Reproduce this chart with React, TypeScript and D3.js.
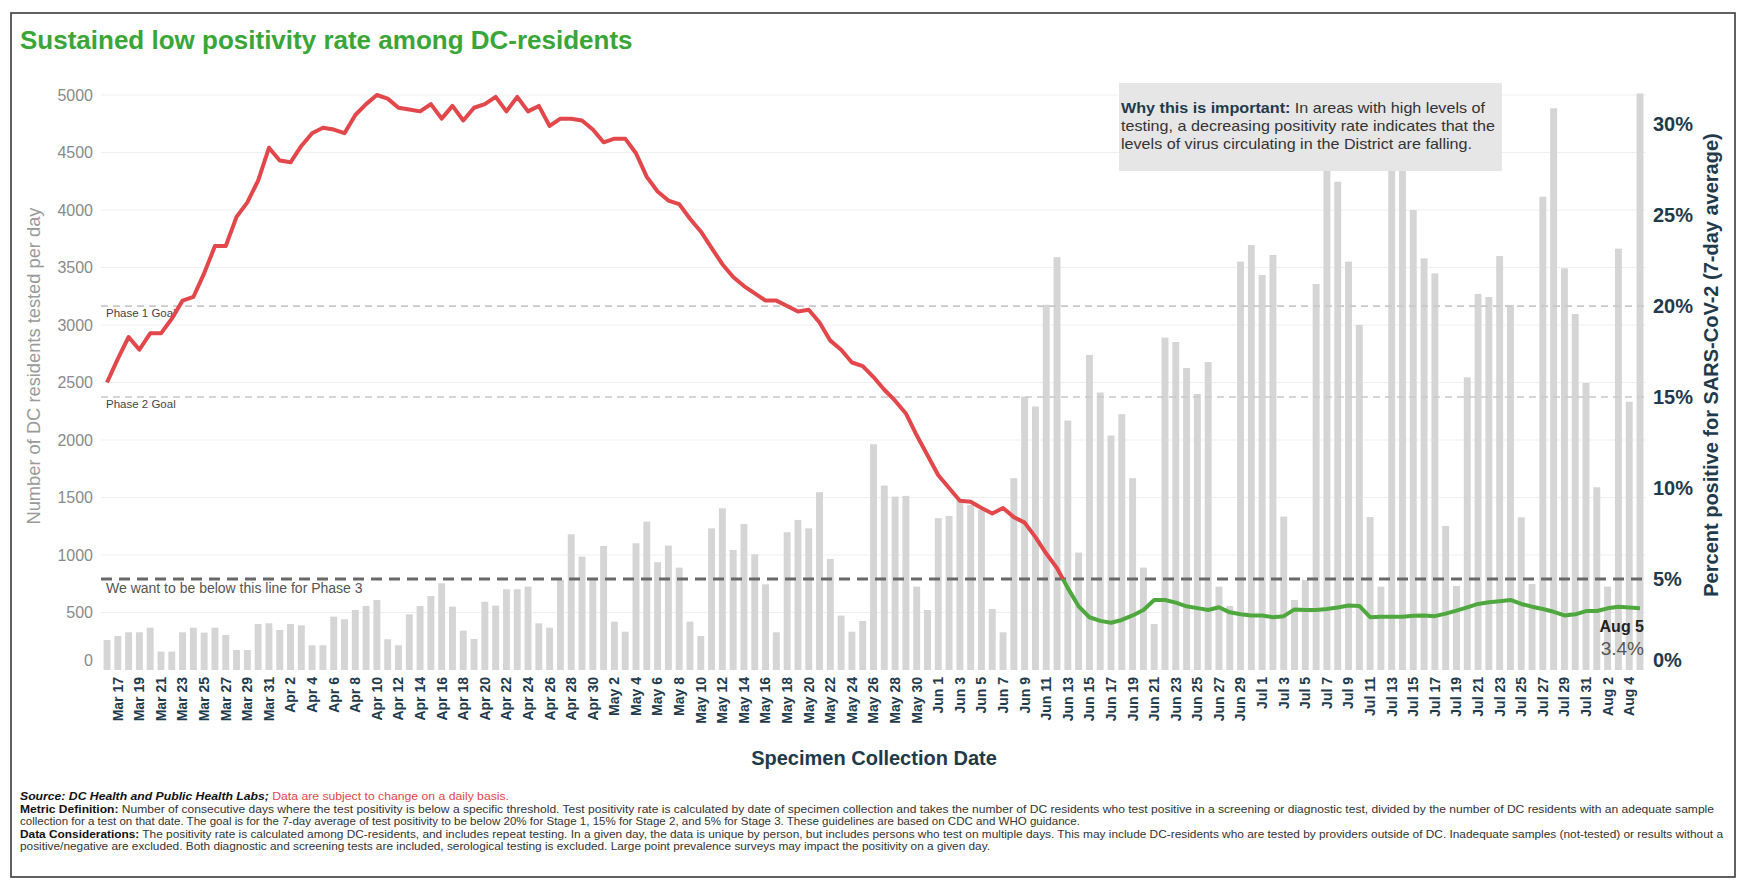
import * as d3 from 'd3';

// first collection date of the series (one value per day)
const startDate = new Date(2020, 2, 16);

// DC residents tested per day, Mar 16 - Aug 5
const testsPerDay = [
  261, 296, 328, 328, 368, 160, 160, 328, 368, 325, 368, 305, 174, 174, 400, 406,
  348, 400, 389, 215, 215, 464, 441, 522, 557, 609, 267, 215, 484, 557, 644, 754,
  551, 342, 270, 594, 560, 702, 702, 725, 406, 368, 783, 1180, 986, 800,
  1079, 420, 333, 1102, 1290, 937, 1082, 890, 420, 296, 1232, 1406, 1044, 1270, 1006, 745,
  328, 1198, 1305, 1232, 1546, 966, 473, 333, 426, 1963, 1604, 1508, 1514, 725, 522,
  1320, 1340, 1479, 1436, 1392, 531, 328, 1668, 2378, 2291, 3176, 3590, 2169, 1021, 2740,
  2413, 2039, 2224, 1668, 890, 400, 2890, 2852, 2626, 2400, 2678, 725, 557, 3551, 3696,
  3435, 3609, 1334, 609, 783, 3357, 4420, 4246, 3551, 3000, 1330, 725, 4450, 4400, 4000,
  3580, 3449, 1253, 731, 2545, 3270, 3244, 3600, 3174, 1328, 748, 4116, 4884, 3493, 3096,
  2496, 1589, 725, 3664, 2333, 5014,
];

// percent positive, 7-day average
const positivity = [
  15.8, 17.1, 18.3, 17.6, 18.5, 18.5, 19.3, 20.3, 20.5, 21.8, 23.3, 23.3, 24.9, 25.7, 26.9, 28.7,
  28.0, 27.9, 28.8, 29.5, 29.8, 29.7, 29.5, 30.5, 31.1, 31.6, 31.4, 30.9, 30.8, 30.7, 31.1, 30.3,
  31.0, 30.2, 30.9, 31.1, 31.5, 30.7, 31.5, 30.7, 31.0, 29.9, 30.3, 30.3, 30.2, 29.7,
  29.0, 29.2, 29.2, 28.4, 27.1, 26.3, 25.8, 25.6, 24.8, 24.1, 23.2, 22.3, 21.6, 21.1, 20.7, 20.3,
  20.3, 20.0, 19.7, 19.8, 19.1, 18.1, 17.6, 16.9, 16.7, 16.1, 15.4, 14.8, 14.1, 12.9, 11.8,
  10.7, 10.0, 9.3, 9.25, 8.9, 8.6, 8.9, 8.4, 8.1, 7.3, 6.4, 5.6, 4.5, 3.5, 2.9, 2.7,
  2.6, 2.75, 3.0, 3.3, 3.85, 3.85, 3.7, 3.5, 3.4, 3.3, 3.45, 3.17, 3.06, 3.0,
  3.0, 2.9, 2.96, 3.33, 3.3, 3.3, 3.35, 3.44, 3.54, 3.52, 2.9, 2.93, 2.93, 2.93, 2.98,
  3.0, 2.96, 3.1, 3.26, 3.44, 3.63, 3.72, 3.78, 3.85, 3.63, 3.48, 3.35, 3.2, 3.0,
  3.06, 3.24, 3.24, 3.39, 3.48, 3.44, 3.4,
];

const leftTicks = [0, 500, 1000, 1500, 2000, 2500, 3000, 3500, 4000, 4500, 5000];
const rightTicks = [0, 5, 10, 15, 20, 25, 30];
const goalLabels = ['Phase 1 Goal', 'Phase 2 Goal'];
const goalValues = [20, 15];
const phase3Goal = 5;

const FONT = '"Liberation Sans", Arial, Helvetica, sans-serif';
const NAVY = '#1e3a4b';

export default function App() {
  const days = d3.timeDay.range(startDate, d3.timeDay.offset(startDate, testsPerDay.length));
  const fmt = d3.timeFormat('%b %-d');

  const x = d3.scaleBand<number>()
    .domain(d3.range(days.length))
    .range([101.6, 1645.4])
    .paddingInner(0.36)
    .paddingOuter(0.18);
  const bw = x.bandwidth();
  const cx = (i: number) => (x(i) ?? 0) + bw / 2;

  const yLeft = d3.scaleLinear().domain([0, 5000]).range([670, 95]);
  const yRight = d3.scaleLinear().domain([0, 31.6]).range([670, 95]);

  const line = d3.line<number>()
    .x((_, i) => cx(i))
    .y(d => yRight(d));
  const linePath = line(positivity) || '';
  const y5 = yRight(phase3Goal);

  const lastIdx = days.length - 1;

  return (
    <>
      <style>{'body{margin:0;background:#fff}'}</style>
      <svg width={1754} height={890} style={{ display: 'block' }} fontFamily={FONT}>
        <rect x={0} y={0} width={1754} height={890} fill="#fff" />
        <rect x={11} y={13} width={1724} height={864} fill="none" stroke="#3a3a3a" strokeWidth={1.6} />

        <text x={20} y={49} fontSize={26} fontWeight="bold" fill="#3aa637">
          Sustained low positivity rate among DC-residents
        </text>

        {/* gridlines */}
        {leftTicks.slice(1).map(t => (
          <line key={t} x1={101} x2={1646} y1={yLeft(t)} y2={yLeft(t)} stroke="#efefef" strokeWidth={1.2} />
        ))}

        {/* bars */}
        {testsPerDay.map((v, i) => (
          <rect key={i} x={x(i)} y={yLeft(v)} width={bw} height={yLeft(0) - yLeft(v)} fill="#d5d5d5" />
        ))}

        {/* phase goal lines */}
        {goalValues.map((g, i) => (
          <g key={g}>
            <line x1={101} x2={1646} y1={yRight(g)} y2={yRight(g)} stroke="#c9c9c9" strokeWidth={1.6} strokeDasharray="7 5" />
            <text x={106} y={yRight(g) + 11} fontSize={11.5} fill="#444">{goalLabels[i]}</text>
          </g>
        ))}
        <line x1={101} x2={1646} y1={y5} y2={y5} stroke="#686868" strokeWidth={3} strokeDasharray="11 7" />
        <text x={106} y={y5 + 14} fontSize={14} fill="#555">We want to be below this line for Phase 3</text>

        {/* positivity line, red above the phase 3 threshold, green below */}
        <defs>
          <clipPath id="above"><rect x={0} y={0} width={1754} height={y5} /></clipPath>
          <clipPath id="below"><rect x={0} y={y5} width={1754} height={890 - y5} /></clipPath>
        </defs>
        <path d={linePath} fill="none" stroke="#e2474b" strokeWidth={4} strokeLinejoin="round" clipPath="url(#above)" />
        <path d={linePath} fill="none" stroke="#4ea83e" strokeWidth={4} strokeLinejoin="round" clipPath="url(#below)" />

        {/* last value label */}
        <text x={1644} y={632} fontSize={16} fontWeight="bold" fill="#222" textAnchor="end">{fmt(days[lastIdx])}</text>
        <text x={1644} y={655} fontSize={19} fill="#555" textAnchor="end">{`${positivity[lastIdx].toFixed(1)}%`}</text>

        {/* left axis */}
        {leftTicks.map(t => (
          <text key={t} x={93} y={yLeft(t) + (t === 0 ? -10 : 0)} dy="0.35em" fontSize={16} fill="#8a8a8a" textAnchor="end">{t}</text>
        ))}
        <text transform="translate(34,366) rotate(-90)" fontSize={18.3} fill="#9a9a9a" textAnchor="middle" dy="0.35em">
          Number of DC residents tested per day
        </text>

        {/* right axis */}
        {rightTicks.map(t => (
          <text key={t} x={1653} y={yRight(t) + (t === 0 ? -10 : 0)} dy="0.35em" fontSize={20} fontWeight="bold" fill={NAVY}>{`${t}%`}</text>
        ))}
        <text transform="translate(1711,365) rotate(-90)" fontSize={20} fontWeight="bold" fill={NAVY} textAnchor="middle" dy="0.35em">
          Percent positive for SARS-CoV-2 (7-day average)
        </text>

        {/* x axis labels, every other day */}
        {days.map((d, i) => (i % 2 === 1 ? (
          <text key={i} transform={`translate(${cx(i)},677) rotate(-90)`} fontSize={14} fontWeight="bold" fill={NAVY} textAnchor="end" dy="0.35em">
            {fmt(d)}
          </text>
        ) : null))}
        <text x={874} y={765} fontSize={20} fontWeight="bold" fill={NAVY} textAnchor="middle">Specimen Collection Date</text>

        {/* annotation box */}
        <rect x={1119} y={83} width={383} height={88} fill="#e6e6e6" />
        <text x={1121} y={113} fontSize={15} fill="#333" textLength={364} lengthAdjust="spacingAndGlyphs">
          <tspan fontWeight="bold" fill={NAVY}>Why this is important:</tspan> In areas with high levels of
        </text>
        <text x={1121} y={131} fontSize={15} fill="#333" textLength={374} lengthAdjust="spacingAndGlyphs">
          testing, a decreasing positivity rate indicates that the
        </text>
        <text x={1121} y={149} fontSize={15} fill="#333" textLength={351} lengthAdjust="spacingAndGlyphs">
          levels of virus circulating in the District are falling.
        </text>

        {/* footer notes */}
        <text x={20} y={800} fontSize={11} textLength={489} lengthAdjust="spacingAndGlyphs">
          <tspan fontWeight="bold" fontStyle="italic" fill="#111">Source: DC Health and Public Health Labs;</tspan>
          <tspan fill="#e2474b"> Data are subject to change on a daily basis.</tspan>
        </text>
        <text x={20} y={812.5} fontSize={11} fill="#333" textLength={1694} lengthAdjust="spacingAndGlyphs">
          <tspan fontWeight="bold" fill="#111">Metric Definition:</tspan> Number of consecutive days where the test positivity is below a specific threshold. Test positivity rate is calculated by date of specimen collection and takes the number of DC residents who test positive in a screening or diagnostic test, divided by the number of DC residents with an adequate sample
        </text>
        <text x={20} y={825} fontSize={11} fill="#333" textLength={1060} lengthAdjust="spacingAndGlyphs">
          collection for a test on that date. The goal is for the 7-day average of test positivity to be below 20% for Stage 1, 15% for Stage 2, and 5% for Stage 3. These guidelines are based on CDC and WHO guidance.
        </text>
        <text x={20} y={837.5} fontSize={11} fill="#333" textLength={1703} lengthAdjust="spacingAndGlyphs">
          <tspan fontWeight="bold" fill="#111">Data Considerations:</tspan> The positivity rate is calculated among DC-residents, and includes repeat testing. In a given day, the data is unique by person, but includes persons who test on multiple days. This may include DC-residents who are tested by providers outside of DC. Inadequate samples (not-tested) or results without a
        </text>
        <text x={20} y={850} fontSize={11} fill="#333" textLength={970} lengthAdjust="spacingAndGlyphs">
          positive/negative are excluded. Both diagnostic and screening tests are included, serological testing is excluded. Large point prevalence surveys may impact the positivity on a given day.
        </text>
      </svg>
    </>
  );
}
